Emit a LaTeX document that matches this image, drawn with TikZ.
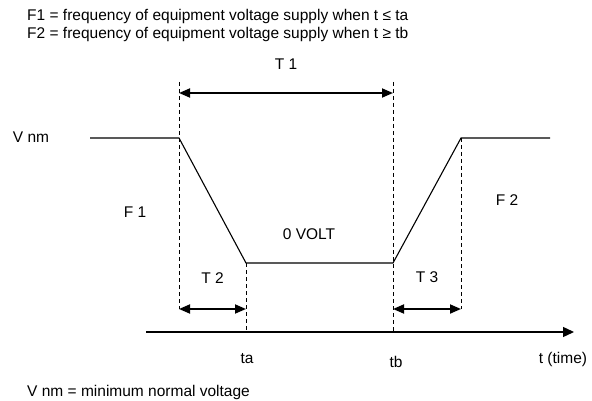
\documentclass[tikz,border=0pt]{standalone}
\usepackage{fontspec}
\setmainfont{Liberation Sans}
\usetikzlibrary{arrows.meta, positioning}

\begin{document}
\begin{tikzpicture}[
    x=1pt, y=-1pt,
    every node/.style={font=\fontsize{15.5}{18}\selectfont, inner sep=0pt},
    note/.style={anchor=base west},
    signal/.style={line width=1.1pt},
    guide/.style={line width=0.9pt, dash pattern=on 4pt off 3pt},
    span/.style={{Triangle[length=11pt,width=9pt]}-{Triangle[length=11pt,width=9pt]}, line width=1.8pt},
    axis/.style={-{Triangle[length=11pt,width=10pt]}, line width=1.4pt},
]
\useasboundingbox (0,0) rectangle (592,401);

% notes on top and bottom
\node[note] (f1note) at (27,21) {F1 = frequency of equipment voltage supply when t ≤ ta};
\node[note] (f2note) at (27,39) {F2 = frequency of equipment voltage supply when t ≥ tb};
\node[note] (vnote) at (27,396) {V nm = minimum normal voltage};

% voltage curve
\coordinate (v0) at (90,138);
\coordinate (ta top) at (179,138);
\coordinate (ta low) at (246,263);
\coordinate (tb low) at (393,263);
\coordinate (tb top) at (461,138);
\coordinate (v1) at (550,138);
\draw[signal] (v0) -- (ta top) -- (ta low) -- (tb low) -- (tb top) -- (v1);

% time axis
\coordinate (t0) at (146,332);
\coordinate (t1) at (574,332);
\draw[axis] (t0) -- (t1);

% dashed guides
\coordinate (g1 up) at (179,82);
\coordinate (g1 dn) at (179,309);
\coordinate (g2 dn) at (246,332);
\coordinate (g3 up) at (393,82);
\coordinate (g3 dn) at (393,332);
\coordinate (g4 dn) at (461,309);
\draw[guide] (g1 up) -- (g1 dn);
\draw[guide] (ta low) -- (g2 dn);
\draw[guide] (g3 up) -- (g3 dn);
\draw[guide] (tb top) -- (g4 dn);

% time spans
\coordinate (s1a) at (179,93);
\coordinate (s1b) at (393,93);
\coordinate (s2a) at (179,309);
\coordinate (s2b) at (246,309);
\coordinate (s3a) at (393,309);
\coordinate (s3b) at (461,309);
\draw[span] (s1a) -- (s1b) node[midway, above=23pt] (T1) {T 1};
\draw[span] (s2a) -- (s2b) node[midway, above=25pt] (T2) {T 2};
\draw[span] (s3a) -- (s3b) node[midway, above=25pt] (T3) {T 3};

% labels
\node (vnm) at (31,137) {V nm};
\node (F1) at (135,212) {F 1};
\node (F2) at (507,200) {F 2};
\node (zero) at (309,234) {0 VOLT};
\node (ta) at (247,359) {ta};
\node (tb) at (396,362) {tb};
\node (time) at (563,359) {t (time)};

\end{tikzpicture}
\end{document}
